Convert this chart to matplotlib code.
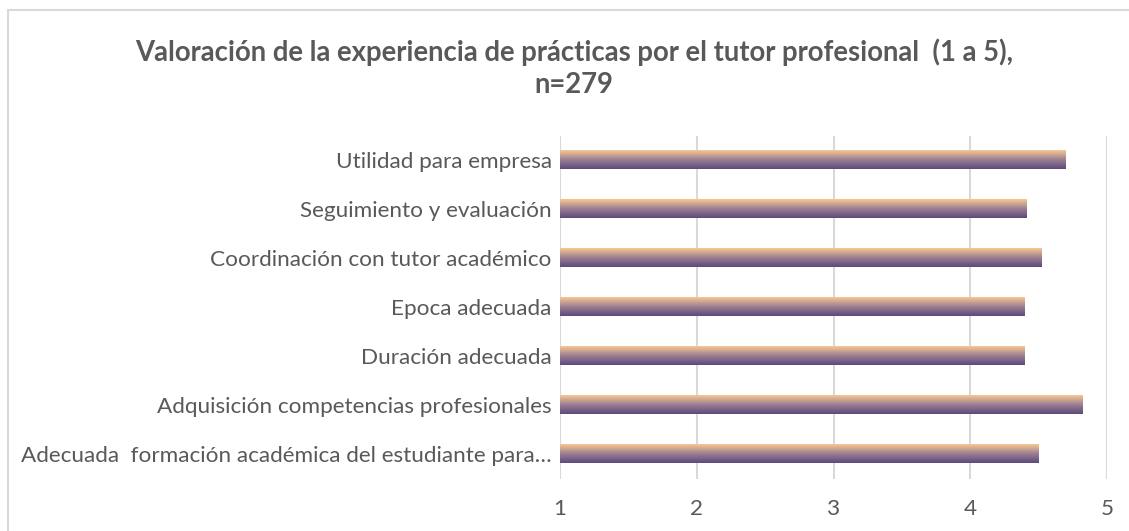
import numpy as np
import matplotlib.pyplot as plt
from matplotlib.colors import LinearSegmentedColormap
from matplotlib.patches import Rectangle

# data (scale 1 to 5)
categorias = ['Adecuada  formación académica del estudiante para…',
              'Adquisición competencias profesionales',
              'Duración adecuada',
              'Epoca adecuada',
              'Coordinación con tutor académico',
              'Seguimiento y evaluación',
              'Utilidad para empresa']
valores = [4.50, 4.82, 4.40, 4.40, 4.52, 4.41, 4.70]
ticks_x = [1, 2, 3, 4, 5]

titulo = 'Valoración de la experiencia de prácticas por el tutor profesional  (1 a 5),\nn=279'

gris = '#595959'
plt.rcParams['font.family'] = ['Lato', 'DejaVu Sans']

fig = plt.figure(figsize=(11.29, 5.31), dpi=100)
W, H = 1129, 531
ax = fig.add_axes([560 / W, 1 - 478.5 / H, (1107 - 560) / W, (478.5 - 135.5) / H])

# outer chart frame
fig.patches.append(Rectangle((8 / W, -0.05), 1.2, 1 - 10 / H + 0.05, transform=fig.transFigure,
                             fill=False, edgecolor='#D9D9D9', linewidth=1.5, zorder=0))

# gradient purple (bottom) -> peach (top)
cmap = LinearSegmentedColormap.from_list('grad', ['#5B4A7C', '#9C7F93', '#F8C890'])
grad = np.linspace(0, 1, 64).reshape(-1, 1)

y = np.arange(len(categorias))
alto = 0.37
for yi, v in zip(y, valores):
    ax.imshow(grad, cmap=cmap, aspect='auto', origin='lower',
              extent=[1, v, yi - alto / 2, yi + alto / 2], zorder=3, interpolation='bilinear')

ax.set_xlim(1, 5)
ax.set_ylim(-0.5, len(categorias) - 0.5)
ax.set_xticks(ticks_x)
ax.set_xticklabels([str(t) for t in ticks_x])
ax.set_yticks(y)
ax.set_yticklabels(categorias)
ax.tick_params(axis='both', length=0, colors=gris, labelsize=16.2)
ax.tick_params(axis='x', pad=15)
ax.tick_params(axis='y', pad=6)
ax.grid(axis='x', color='#D9D9D9', linewidth=1.5, zorder=0)
for s in ax.spines.values():
    s.set_visible(False)

fig.text(574 / W, 1 - 68 / H, titulo, ha='center', va='center', fontsize=19.8,
         fontweight='bold', color=gris, linespacing=1.3)

fig.savefig('out.png', dpi=100)
